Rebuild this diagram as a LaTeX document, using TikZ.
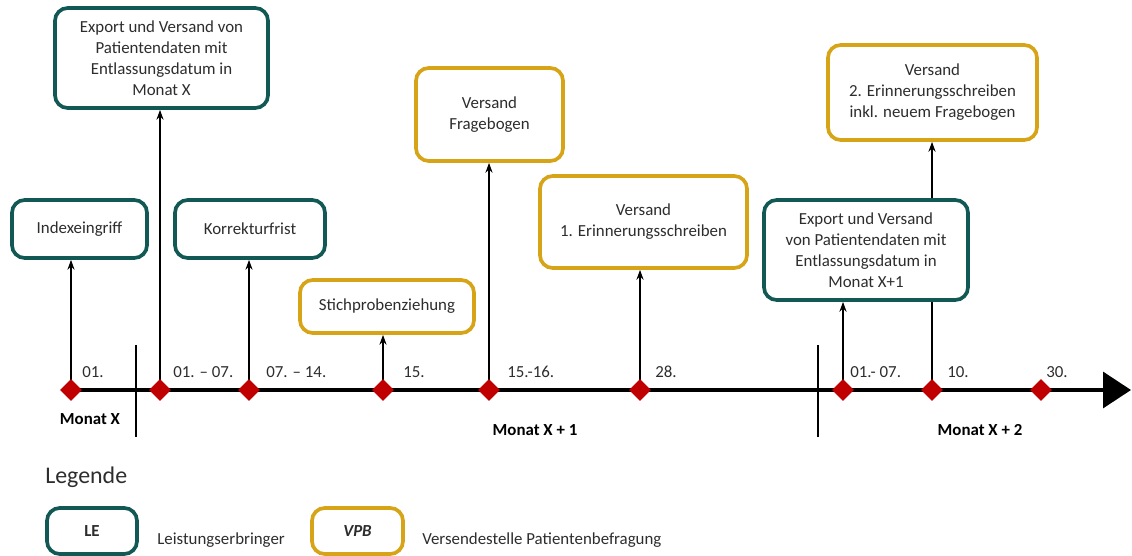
\documentclass[tikz,border=0pt]{standalone}
\usepackage{fontspec}
\setmainfont{Carlito}
\usetikzlibrary{shapes.geometric,arrows.meta,backgrounds}
\definecolor{leteal}{RGB}{18,88,84}
\definecolor{vpbgold}{RGB}{214,164,22}
\definecolor{markred}{RGB}{192,0,0}
\definecolor{txtgray}{RGB}{45,45,45}

\begin{document}
\begin{tikzpicture}[x=0.025cm,y=-0.025cm,
  box/.style={rectangle,rounded corners=0.32cm,line width=2.6pt,fill=white,align=center,
    text=txtgray,font=\fontsize{12}{15}\selectfont,inner sep=2pt},
  lebox/.style={box,draw=leteal},
  vpbbox/.style={box,draw=vpbgold},
  marker/.style={diamond,fill=markred,inner sep=0pt,minimum width=0.55cm,minimum height=0.55cm},
  datum/.style={anchor=west,text=txtgray,font=\fontsize{12}{15}\selectfont,inner sep=0pt},
  monat/.style={font=\fontsize{12}{15}\selectfont\bfseries,inner sep=0pt},
  pfeil/.style={line width=1.6pt,-{Stealth[length=7pt,width=5pt]}},
  trenn/.style={line width=1.6pt}]
 \useasboundingbox (0,0) rectangle (1132,556);

 % Zeitstrahl
 \coordinate (tstart) at (66,390);
 \coordinate (tend) at (1131,390);
 \node[marker] (d1) at (71,390) {};
 \node[marker] (d2) at (160,390) {};
 \node[marker] (d3) at (249,390) {};
 \node[marker] (d4) at (383,390) {};
 \node[marker] (d5) at (489,390) {};
 \node[marker] (d6) at (640,390) {};
 \node[marker] (d7) at (843,390) {};
 \node[marker] (d8) at (932,390) {};
 \node[marker] (d9) at (1041,390) {};

 \node[datum] (t1) at (82,372) {01.};
 \node[datum] (t2) at (173,372) {01. – 07.};
 \node[datum] (t3) at (266,372) {07. – 14.};
 \node[datum] (t4) at (403,372) {15.};
 \node[datum] (t5) at (507,372) {15.-16.};
 \node[datum] (t6) at (655,372) {28.};
 \node[datum] (t7) at (850,372) {01.- 07.};
 \node[datum] (t8) at (947,372) {10.};
 \node[datum] (t9) at (1046,372) {30.};

 \node[monat] (mx) at (90,419) {Monat X};
 \node[monat] (mx1) at (535,430) {Monat X + 1};
 \node[monat] (mx2) at (980,430) {Monat X + 2};

 % Ereignisse
 \node[lebox,minimum width=3.375cm,minimum height=1.45cm] (idx) at (79.5,229) {Indexeingriff};
 \node[lebox,minimum width=5.325cm,minimum height=2.5cm] (exp1) at (161.5,58)
   {Export und Versand von\\Patientendaten mit\\Entlassungsdatum in\\Monat X};
 \node[lebox,minimum width=3.75cm,minimum height=1.45cm] (kor) at (250,229) {Korrekturfrist};
 \node[vpbbox,minimum width=4.35cm,minimum height=1.325cm] (stich) at (387,306.5) {Stichprobenziehung};
 \node[vpbbox,minimum width=3.675cm,minimum height=2.325cm] (frag) at (489.5,114.5) {Versand\\Fragebogen};
 \node[vpbbox,minimum width=5.175cm,minimum height=2.3cm] (ern1) at (643.5,222)
   {Versand\\1. Erinnerungsschreiben};
 \node[lebox,minimum width=5.1cm,minimum height=2.5cm] (exp2) at (866,250)
   {Export und Versand\\von Patientendaten mit\\Entlassungsdatum in\\Monat X+1};
 \node[vpbbox,minimum width=5.225cm,minimum height=2.375cm] (ern2) at (932.5,92.5)
   {Versand\\2. Erinnerungsschreiben\\inkl. neuem Fragebogen};

 \begin{scope}[on background layer]
  \draw[line width=2.4pt,-{Triangle[length=0.7cm,width=0.9cm]}] (tstart) -- (tend);
  \draw[trenn] (136,345) -- (136,437);
  \draw[trenn] (818,345) -- (818,437);
  \draw[pfeil] (d1.center) -- (d1 |- idx.south);
  \draw[pfeil] (d2.center) -- (d2 |- exp1.south);
  \draw[pfeil] (d3.center) -- (d3 |- kor.south);
  \draw[pfeil] (d4.center) -- (d4 |- stich.south);
  \draw[pfeil] (d5.center) -- (d5 |- frag.south);
  \draw[pfeil] (d6.center) -- (d6 |- ern1.south);
  \draw[pfeil] (d7.center) -- (d7 |- exp2.south);
  \draw[pfeil] (d8.center) -- (d8 |- ern2.south);
 \end{scope}

 % Legende
 \node[anchor=west,inner sep=0pt,text=txtgray,font=\fontsize{17}{20}\selectfont] (leg) at (45,477) {Legende};
 \node[lebox,minimum width=2.25cm,minimum height=1.15cm,font=\fontsize{12}{15}\selectfont\bfseries] (legle) at (92,531) {LE};
 \node[datum] (legletxt) at (157,540) {Leistungserbringer};
 \node[vpbbox,minimum width=2.275cm,minimum height=1.15cm,font=\fontsize{12}{15}\selectfont\bfseries\itshape] (legvpb) at (357.5,531) {VPB};
 \node[datum] (legvpbtxt) at (422,540) {Versendestelle Patientenbefragung};
\end{tikzpicture}
\end{document}
